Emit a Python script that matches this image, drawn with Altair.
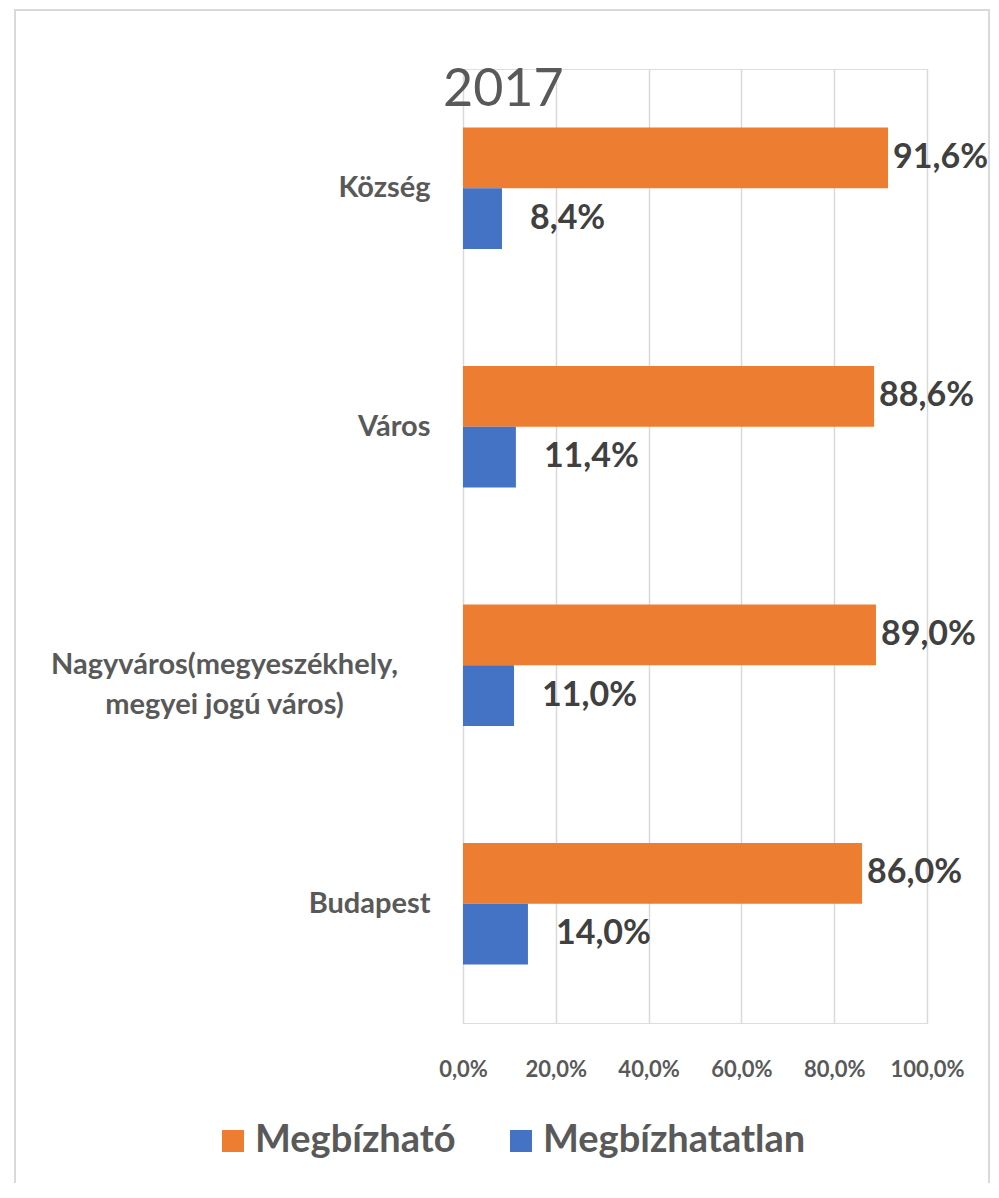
import altair as alt
import pandas as pd

categories = ["Község", "Város", "Nagyváros(megyeszékhely, megyei jogú város)", "Budapest"]
series_names = ["Megbízható", "Megbízhatatlan"]
megbizhato = [91.6, 88.6, 89.0, 86.0]
megbizhatatlan = [8.4, 11.4, 11.0, 14.0]
colors = ["#ED7D31", "#4472C4"]
x_ticks = [0, 20, 40, 60, 80, 100]

rows = []
for c, a, b in zip(categories, megbizhato, megbizhatatlan):
    rows.append({"cat": c, "series": series_names[0], "value": a})
    rows.append({"cat": c, "series": series_names[1], "value": b})
df = pd.DataFrame(rows)

FONT = "Lato"
TXT = "#595959"
LONG = categories[2]

x_enc = alt.X(
    "value:Q",
    scale=alt.Scale(domain=[0, 100], nice=False),
    axis=alt.Axis(
        values=x_ticks,
        title=None,
        domain=False,
        ticks=False,
        grid=True,
        gridColor="#D9D9D9",
        gridWidth=1.5,
        labelExpr="replace(format(datum.value/100, '.1%'), '.', ',')",
        labelFont=FONT,
        labelFontSize=22,
        labelFontWeight="bold",
        labelColor=TXT,
        labelPadding=36,
        labelOverlap=False,
        labelFlush=False,
    ),
)
y_enc = alt.Y(
    "cat:N",
    sort=categories,
    scale=alt.Scale(domain=categories, paddingInner=0.49, paddingOuter=0.245),
    axis=alt.Axis(
        title=None,
        domain=False,
        ticks=False,
        grid=False,
        labelFont=FONT,
        labelFontSize=29,
        labelFontWeight="bold",
        labelColor=TXT,
        labelLineHeight=40,
        labelLimit=600,
        labelBaseline="middle",
        labelExpr="split(replace(datum.label, ', ', ',|'), '|')",
        labelAlign={"condition": {"test": f"datum.value == '{LONG}'", "value": "center"}, "value": "right"},
        labelPadding={"condition": {"test": f"datum.value == '{LONG}'", "value": 239}, "value": 33},
    ),
)
yoff = alt.YOffset("series:N", sort=series_names, scale=alt.Scale(domain=series_names, paddingInner=0, paddingOuter=0))

base = alt.Chart(df)

bars = base.mark_bar().encode(
    x=x_enc,
    y=y_enc,
    yOffset=yoff,
    color=alt.Color(
        "series:N",
        sort=series_names,
        scale=alt.Scale(domain=series_names, range=colors),
        legend=alt.Legend(
            title=None,
            orient="none",
            direction="horizontal",
            legendX=-249,
            legendY=1053,
            symbolType="square",
            symbolSize=484,
            symbolStrokeWidth=0,
            labelFont=FONT,
            labelFontSize=38,
            labelFontWeight="bold",
            labelColor=TXT,
            labelOffset=3,
            columnPadding=46,
            labelLimit=400,
        ),
    ),
)

label_expr = "replace(format(datum.value/100, '.1%'), '.', ',')"

lab_a = base.transform_filter(alt.datum.series == series_names[0]).transform_calculate(
    lbl=label_expr
).mark_text(align="left", baseline="middle", dx=5, font=FONT, fontSize=34, fontWeight="bold", color="#404040").encode(
    x="value:Q", y=alt.Y("cat:N", sort=categories), yOffset=yoff, text="lbl:N"
)
lab_b = base.transform_filter(alt.datum.series == series_names[1]).transform_calculate(
    lbl=label_expr
).mark_text(align="left", baseline="middle", dx=28, font=FONT, fontSize=34, fontWeight="bold", color="#404040").encode(
    x="value:Q", y=alt.Y("cat:N", sort=categories), yOffset=yoff, text="lbl:N"
)

border = alt.Chart(pd.DataFrame({"k": [0]})).mark_rect(
    fill="transparent", stroke="#D9D9D9", strokeWidth=2
).encode(
    x=alt.value(-448), x2=alt.value(526), y=alt.value(-59), y2=alt.value(1200)
)

chart = alt.layer(border, bars, lab_a, lab_b).properties(
    width=464,
    height=954,
    title=alt.TitleParams(
        "2017",
        anchor="start",
        frame="group",
        dx=-20,
        dy=70,
        offset=-38,
        font=FONT,
        fontSize=52,
        fontWeight="normal",
        color=TXT,
    ),
    padding={"left": 455, "top": 61, "right": 64, "bottom": 160},
    autosize=alt.AutoSizeParams(type="none"),
).configure_view(stroke=None).configure(background="white")

chart.save("out.html", embed_options={"renderer": "svg", "actions": False})
